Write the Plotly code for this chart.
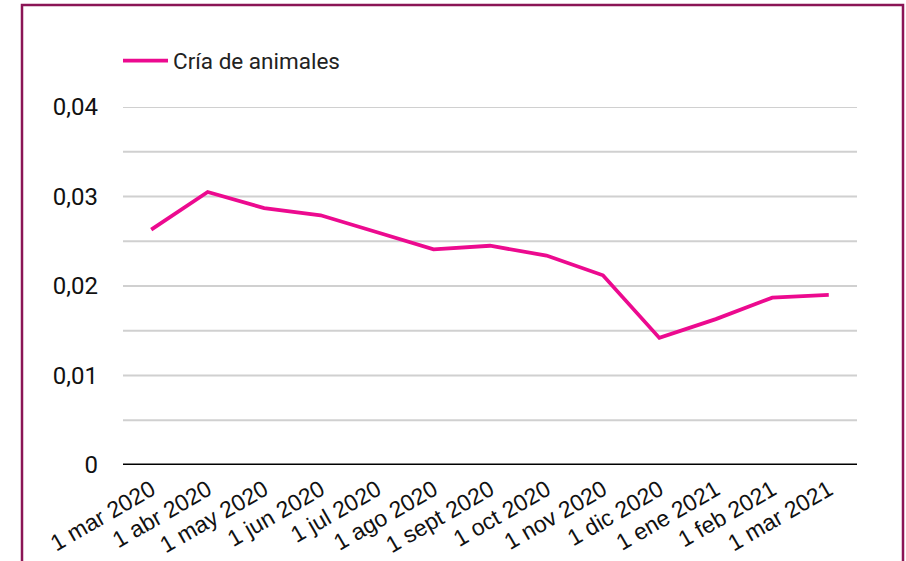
import plotly.graph_objects as go

categories = ["1 mar 2020", "1 abr 2020", "1 may 2020", "1 jun 2020", "1 jul 2020",
              "1 ago 2020", "1 sept 2020", "1 oct 2020", "1 nov 2020", "1 dic 2020",
              "1 ene 2021", "1 feb 2021", "1 mar 2021"]
values = [0.0263, 0.0305, 0.0287, 0.0279, 0.0260, 0.0241, 0.0245, 0.0234, 0.0212,
          0.0142, 0.0163, 0.0187, 0.0190]
series_name = "Cría de animales"
y_tickvals = [0, 0.01, 0.02, 0.03, 0.04]
y_ticktext = ["0", "0,01", "0,02", "0,03", "0,04"]
grid_vals = [0.005, 0.01, 0.015, 0.02, 0.025, 0.03, 0.035, 0.04]

W, H = 906, 561
L, R, T, B = 123, 49, 107, 96
pw, ph = W - L - R, H - T - B

fig = go.Figure()
fig.add_trace(go.Scatter(x=categories, y=values, mode="lines", name=series_name,
                         line=dict(color="#EC0A8F", width=3.8), showlegend=True))

shapes = []
for g in grid_vals:
    shapes.append(dict(type="line", xref="paper", yref="y", x0=0, x1=1, y0=g, y1=g,
                       line=dict(color="#D0D0D0", width=2.2), layer="below"))
shapes.append(dict(type="line", xref="paper", yref="y", x0=0, x1=1, y0=0, y1=0,
                   line=dict(color="#000000", width=3)))
# outer border
shapes.append(dict(type="rect", xref="paper", yref="paper",
                   x0=(22 - L) / pw, x1=(903 - L) / pw,
                   y0=(H - B - 575) / ph, y1=(H - B - 5) / ph,
                   line=dict(color="#8B1556", width=2.5)))

fig.update_layout(
    width=W, height=H,
    margin=dict(l=L, r=R, t=T, b=B, autoexpand=False),
    paper_bgcolor="white", plot_bgcolor="white",
    shapes=shapes,
    showlegend=True,
    legend=dict(x=(118 - L) / pw, y=(H - B - 61) / ph, xanchor="left", yanchor="middle",
                font=dict(family="Roboto", size=22.5, color="#222222"),
                itemwidth=45,
                bgcolor="rgba(0,0,0,0)"),
    xaxis=dict(type="category", showgrid=False, zeroline=False, showline=False,
               ticks="", tickangle=-30, automargin=False, ticklabelstandoff=6,
               tickfont=dict(family="Liberation Sans", size=23, color="#111111"),
               range=[-0.5, len(categories) - 0.5]),
    yaxis=dict(range=[0, 0.04], tickvals=y_tickvals, ticktext=y_ticktext,
               showgrid=False, zeroline=False, showline=False, ticks="",
               automargin=False,
               tickfont=dict(family="Roboto", size=24, color="#111111"),
               ticklabelstandoff=24),
)

fig.write_html("out.html", config={"displayModeBar": False},
               post_script="document.body.style.margin='0px';")
